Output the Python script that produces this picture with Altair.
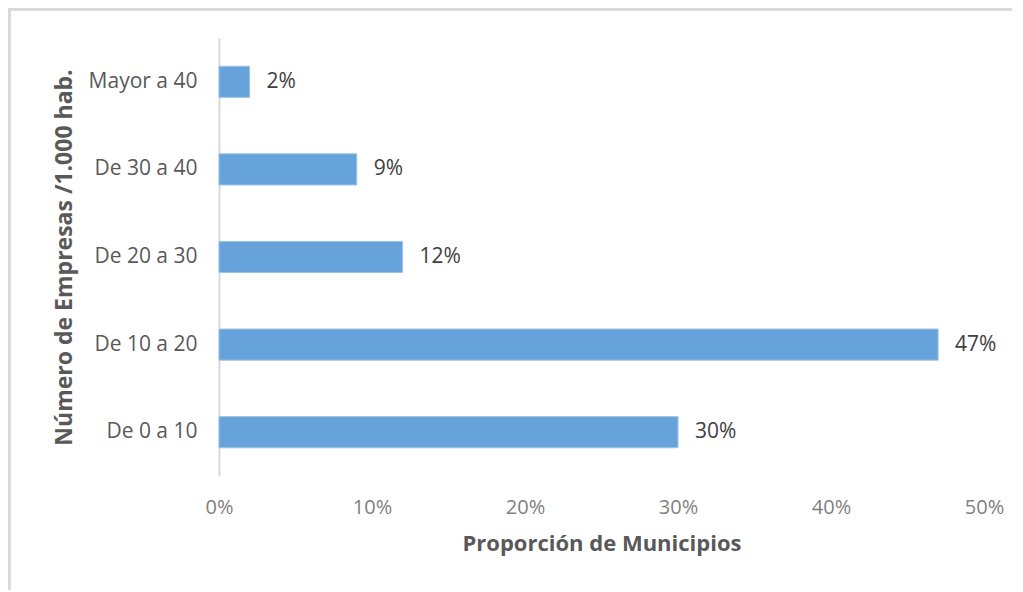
import altair as alt
import pandas as pd

categories = ["Mayor a 40", "De 30 a 40", "De 20 a 30", "De 10 a 20", "De 0 a 10"]
values = [0.02, 0.09, 0.12, 0.47, 0.30]
labels = ["2%", "9%", "12%", "47%", "30%"]

df = pd.DataFrame({"cat": categories, "val": values, "lab": labels})

FONT = "Open Sans"

y_enc = alt.Y("cat:N", sort=categories,
              scale=alt.Scale(paddingInner=0.645, paddingOuter=0.3225),
              axis=alt.Axis(title="Número de Empresas /1.000 hab.", titleFont=FONT,
                            titleFontSize=23, titleFontWeight="bold", titleColor="#595959",
                            titlePadding=12, labelFont=FONT, labelFontSize=21,
                            labelColor="#595959", labelPadding=22, ticks=False,
                            domainColor="#d9d9d9", domainWidth=2))

bars = alt.Chart(df).mark_bar(color="#65A3DA", stroke="#9CC3E6", strokeWidth=1).encode(
    x=alt.X("val:Q", scale=alt.Scale(domain=[0, 0.5], nice=False),
            axis=alt.Axis(format=".0%", values=[0, 0.1, 0.2, 0.3, 0.4, 0.5],
                          title="Proporción de Municipios", titleFont=FONT,
                          titleFontSize=22, titleFontWeight="bold", titleColor="#595959",
                          titlePadding=16, labelFont=FONT, labelFontSize=20,
                          labelColor="#7f7f7f", labelPadding=21, labelFlush=False,
                          ticks=False, domain=False, grid=False)),
    y=y_enc,
)

text = alt.Chart(df).mark_text(align="left", baseline="middle", dx=17, font=FONT,
                               fontSize=21, color="#404040").encode(
    x="val:Q", y=alt.Y("cat:N", sort=categories), text="lab:N")

frame_left = alt.Chart(df).mark_rule(color="#d9d9d9", strokeWidth=3).encode(
    x=alt.value(-210), y=alt.value(-30), y2=alt.value(580))
frame_top = alt.Chart(df).mark_rule(color="#d9d9d9", strokeWidth=3).encode(
    x=alt.value(-210), x2=alt.value(800), y=alt.value(-29))

chart = alt.layer(frame_left, frame_top, bars, text).properties(
    width=765, height=438,
    autosize=alt.AutoSizeParams(type="none"),
    padding={"left": 211, "top": 30, "right": 28, "bottom": 114},
).configure(background="white").configure_view(strokeOpacity=0, strokeWidth=0)

chart.save("out.html", embed_options={"renderer": "svg", "actions": False})
